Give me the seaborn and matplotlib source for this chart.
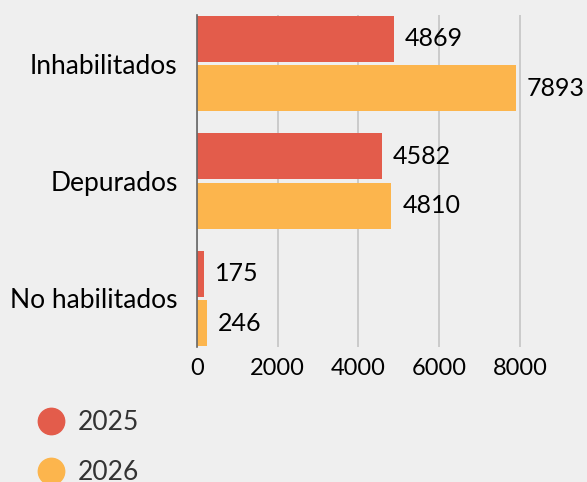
import pandas as pd
import seaborn as sns
import matplotlib.pyplot as plt
from matplotlib.lines import Line2D

# datos
categorias = ["Inhabilitados", "Depurados", "No habilitados"]
valores_2025 = [4869, 4582, 175]
valores_2026 = [7893, 4810, 246]
anios = ["2025", "2026"]
colores = ["#e35c4b", "#fcb54d"]

df = pd.DataFrame({
    "categoria": categorias * 2,
    "anio": [anios[0]] * 3 + [anios[1]] * 3,
    "valor": valores_2025 + valores_2026,
})

sns.set_theme(style="white")
plt.rcParams["font.family"] = ["Lato", "DejaVu Sans"]
bg = "#efefef"

fig = plt.figure(figsize=(5.87, 4.82), dpi=100, facecolor=bg)
ax = fig.add_axes([197 / 587, 1 - 347 / 482, 390 / 587, 332 / 482])
ax.set_facecolor(bg)

sns.barplot(data=df, y="categoria", x="valor", hue="anio", orient="h",
            palette=colores, saturation=1, width=0.84, gap=0.07, ax=ax,
            legend=False, linewidth=0, zorder=3)

for cont in ax.containers:
    ax.bar_label(cont, padding=8, fontsize=18, color="black")

ax.set_xlim(0, 9660)
ax.set_ylim(2.413, -0.413)
ax.set_xticks([0, 2000, 4000, 6000, 8000])
ax.xaxis.grid(True, color="#c4c4c4", linewidth=1.2, zorder=0)
ax.set_axisbelow(True)
ax.tick_params(axis="x", length=0, pad=8, labelsize=17, labelcolor="black")
ax.tick_params(axis="y", length=0, pad=14, labelsize=19, labelcolor="black")
ax.set_xlabel("")
ax.set_ylabel("")
for s in ["top", "right", "bottom"]:
    ax.spines[s].set_visible(False)
ax.spines["left"].set_color("#666666")
ax.spines["left"].set_linewidth(1.2)
ax.spines["left"].set_zorder(4)

handles = [Line2D([], [], marker="o", linestyle="", markersize=19,
                  markerfacecolor=c, markeredgecolor=c) for c in colores]
fig.legend(handles, anios, loc="upper left", bbox_to_anchor=(0.02, 0.176),
           frameon=False, fontsize=19, labelcolor="#333333",
           handletextpad=0.0, labelspacing=0.95, borderpad=0)

fig.savefig("out.png", dpi=100, facecolor=bg)
